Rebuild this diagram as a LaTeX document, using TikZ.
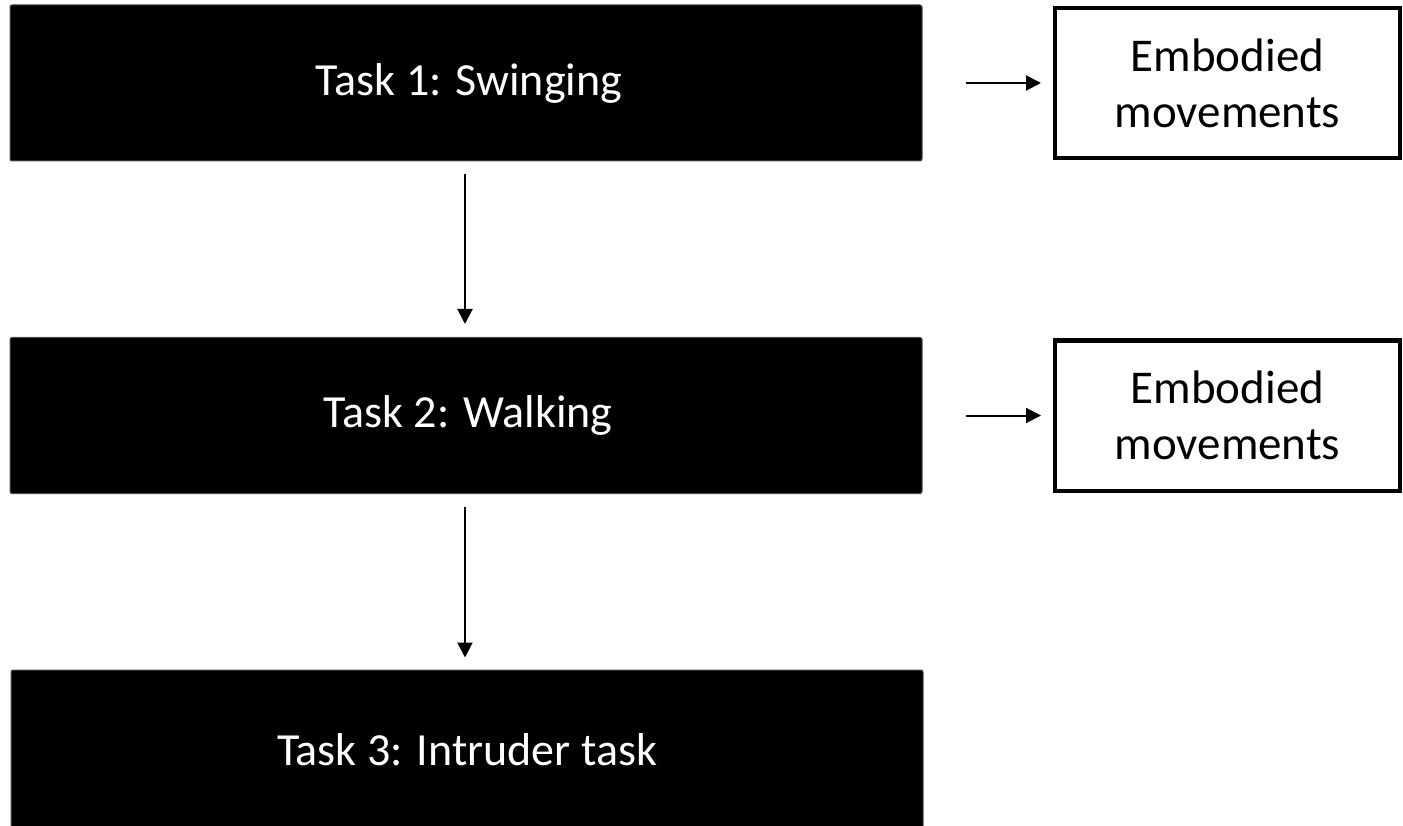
\documentclass[tikz,border=0pt]{standalone}
\usepackage{fontspec}
\setmainfont{Carlito}
\usetikzlibrary{arrows.meta}
\begin{document}
\begin{tikzpicture}[x=1pt,y=-1pt,
  taskbox/.style={fill=black, draw=black!70, line width=1pt, rounded corners=2pt,
    text=white, inner sep=0pt, minimum width=912pt, minimum height=156pt,
    font=\fontsize{46}{56}\selectfont},
  outbox/.style={draw=black, line width=4pt, fill=white, align=center,
    inner sep=0pt, minimum width=345pt, minimum height=150pt,
    font=\fontsize{47}{56}\selectfont},
  flow/.style={line width=2pt, -{Triangle[length=15pt,width=15pt]}}]
  \useasboundingbox (0,0) rectangle (1403,826);
  \begin{scope}
    \clip (0,0) rectangle (1403,826);
    % task boxes
    \node[taskbox] (t1) at (466,83) {\hspace*{6pt}Task 1: Swinging};
    \node[taskbox] (t2) at (466,415.5) {\hspace*{4pt}Task 2: Walking};
    \node[taskbox, minimum height=164pt] (t3) at (467,752) {\raisebox{4pt}{Task 3: Intruder task}};
    % outcome boxes
    \node[outbox] (e1) at (1227.5,83) {Embodied\\movements};
    \node[outbox] (e2) at (1227.5,415.5) {Embodied\\movements};
    % connectors
    \draw[flow, shorten <=13pt, shorten >=13pt] ([xshift=-1pt]t1.south) -- ([xshift=-1pt]t2.north);
    \draw[flow, shorten <=13pt, shorten >=12pt] ([xshift=-1pt]t2.south) -- ([xshift=-2pt]t3.north);
    \draw[flow, shorten <=43pt, shorten >=12pt] (t1.east) -- (e1.west);
    \draw[flow, shorten <=43pt, shorten >=12pt] (t2.east) -- (e2.west);
  \end{scope}
\end{tikzpicture}
\end{document}
